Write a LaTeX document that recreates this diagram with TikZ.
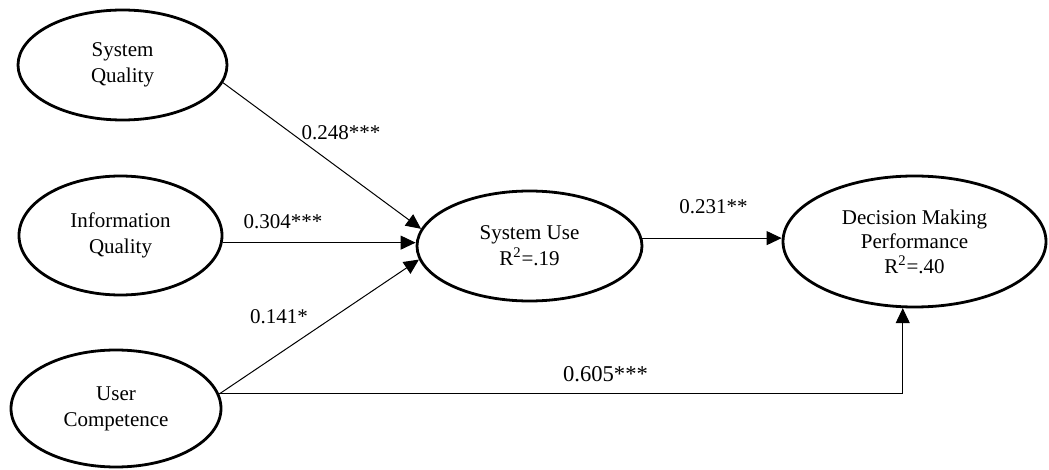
\documentclass[tikz,border=0pt]{standalone}
\usepackage{fontspec}
\setmainfont{Liberation Serif}
\usetikzlibrary{shapes.geometric,arrows.meta}
\begin{document}
\begin{tikzpicture}[x=0.5pt,y=-0.5pt,
  construct/.style={draw, ellipse, line width=1.4pt, inner sep=0pt, align=center,
    font=\fontsize{10.5}{13}\selectfont},
  link/.style={line width=0.5pt, -{Triangle[length=7.5pt,width=7pt]}},
  coef/.style={inner sep=0pt, font=\fontsize{10.5}{12.5}\selectfont}]
\useasboundingbox (0,0) rectangle (1049,470);

% latent constructs
\node[construct, minimum width=104.5pt, minimum height=55pt] (sq) at (122.5,65) {System\\Quality};
\node[construct, minimum width=101.5pt, minimum height=59.5pt] (iq) at (120.5,235.5) {Information\\Quality};
\node[construct, minimum width=105pt, minimum height=58.5pt] (uc) at (116,408.5) {User\\Competence};
\node[construct, minimum width=112.5pt, minimum height=55pt] (su) at (529.5,246) {System Use\\R\textsuperscript{2}=.19};
\node[construct, minimum width=131.5pt, minimum height=65.5pt, font=\fontsize{10.5}{12.3}\selectfont] (dmp) at (914.5,241.5) {Decision Making\\Performance\\R\textsuperscript{2}=.40};

% structural paths
\draw[link] (sq.-10) -- (su.171);
\draw[link] (iq.-4.7) -- (iq.-4.7 -| su.west);
\draw[link] (uc.8) -- (su.187);
\draw[link] (su.4) -- (su.4 -| dmp.west);
\draw[link] (uc.8) -| (dmp.-100);

% path coefficients
\node[coef] (c1) at (341,133) {0.248***};
\node[coef] (c2) at (283,222) {0.304***};
\node[coef] (c3) at (279,317) {0.141*};
\node[coef] (c4) at (713.5,207) {0.231**};
\node[coef, font=\fontsize{11.3}{13.5}\selectfont] (c5) at (605.5,374) {0.605***};
\end{tikzpicture}
\end{document}
